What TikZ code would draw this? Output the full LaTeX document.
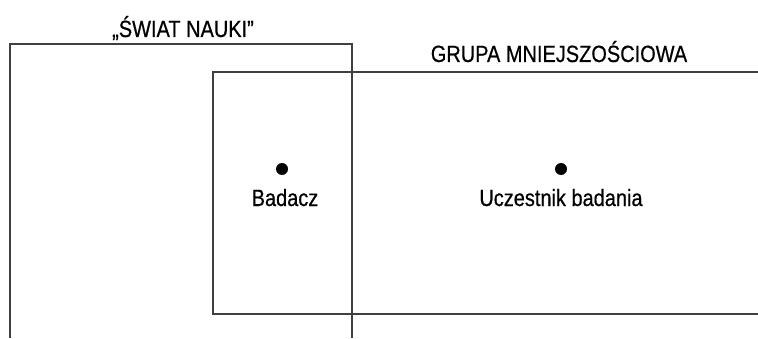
\documentclass[tikz,border=0pt]{standalone}
\usepackage{fontspec}
\setmainfont{Liberation Sans}[FakeStretch=0.85,FakeBold=0.6]
\begin{document}
\begin{tikzpicture}[x=1pt,y=1pt,
  frame/.style={draw=black!75,line width=1.8pt},
  lbl/.style={inner sep=0pt,anchor=base,font=\fontsize{23.5}{25}\selectfont,text=black},
  person/.style={circle,fill=black,inner sep=0pt,minimum size=12pt}]
\useasboundingbox (0,0) rectangle (758,338);
% "swiat nauki" frame (open at bottom)
\coordinate (wl) at (10,0);
\coordinate (wr) at (352,0);
\draw[frame] (wl) -- (10,294) -- (352,294) -- (wr);
% minority group frame (open at right)
\coordinate (gt) at (758,266);
\coordinate (gb) at (758,24);
\draw[frame] (gt) -- (213,266) -- (213,24) -- (gb);
% titles
\node[lbl] (swiat) at (183,301) {„ŚWIAT NAUKI”};
\node[lbl] (grupa) at (559,276) {GRUPA MNIEJSZOŚCIOWA};
% people
\node[person] (pb) at (282,169) {};
\node[person] (pu) at (561,169) {};
\node[lbl] (badacz) at (285,132) {Badacz};
\node[lbl] (uczest) at (561,132) {Uczestnik badania};
\end{tikzpicture}
\end{document}
